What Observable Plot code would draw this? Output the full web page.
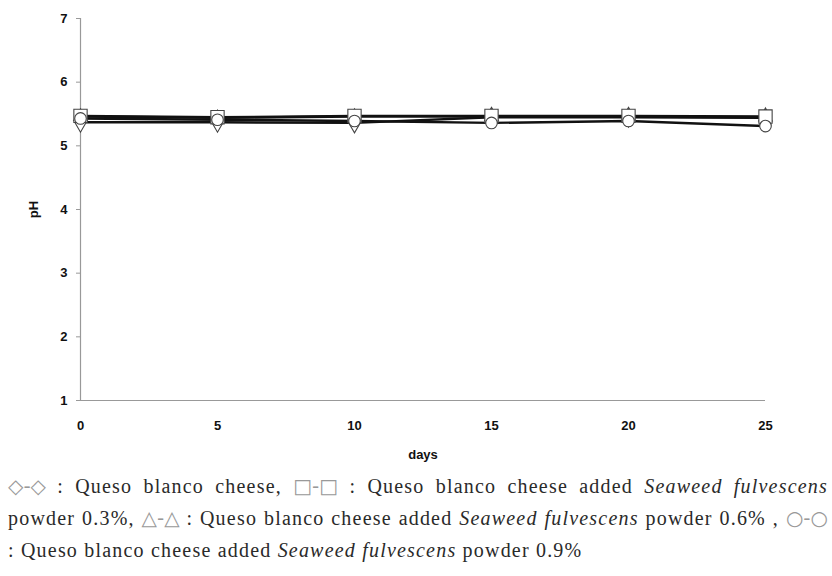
<!DOCTYPE html>
<html>
<head>
<meta charset="utf-8">
<script src="https://cdn.jsdelivr.net/npm/d3@7"></script>
<script src="https://cdn.jsdelivr.net/npm/@observablehq/plot@0.6"></script>
<style>
  html, body { margin: 0; padding: 0; background: #fff; }
  #chart { width: 832px; height: 470px; }
  .cap { font-family: "Liberation Serif", "DejaVu Serif", serif; font-size: 20px; letter-spacing: 1.2px; color: #2a2a2a; padding: 0 4px 0 8px; width: 820px; }
  .cap .ln { height: 32px; line-height: 32px; white-space: nowrap; }
  .cap .just { text-align: justify; text-align-last: justify; white-space: normal; }
  .cap .sym { color: #999; display: inline-block; letter-spacing: 0; font-family: "DejaVu Sans", sans-serif; font-size: 20px; }
  .cap i { font-style: italic; }
</style>
</head>
<body>
<div id="chart"></div>
<div class="cap" id="cap"></div>
<script>
const days = [0, 5, 10, 15, 20, 25];
const symbols = ["diamond", "triangle", "square", "circle"];
const phControl = [5.37, 5.37, 5.36, 5.45, 5.45, 5.44];
const ph03 = [5.47, 5.45, 5.47, 5.47, 5.47, 5.46];
const ph06 = [5.46, 5.44, 5.46, 5.46, 5.46, 5.45];
const ph09 = [5.43, 5.41, 5.39, 5.36, 5.39, 5.31];
const yTicks = [1, 2, 3, 4, 5, 6, 7];
const xTicks = [0, 5, 10, 15, 20, 25];
const legendSymbols = ["◇-◇", "□-□", "△-△", "○-○"];

const valuesBySymbol = {diamond: phControl, square: ph03, triangle: ph06, circle: ph09};
const sizeBySymbol = {diamond: 6, square: 7.5, triangle: 5, circle: 5.8};
const data = [];
symbols.forEach(sym => {
  days.forEach((d, j) => data.push({series: sym, symbol: sym, day: d, ph: valuesBySymbol[sym][j]}));
});

const chart = Plot.plot({
  width: 832,
  height: 470,
  marginLeft: 80,
  marginRight: 67,
  marginTop: 18,
  marginBottom: 70,
  style: {fontFamily: "Liberation Sans, Arial, sans-serif", fontSize: "13px", fontWeight: "bold", color: "#111"},
  x: {domain: [0, 25], ticks: xTicks, tickFormat: "d", tickSize: 0, tickPadding: 20, label: "days", labelAnchor: "center", labelOffset: 58, labelArrow: "none"},
  y: {domain: [1, 7], ticks: yTicks, tickFormat: "d", tickSize: 4, tickPadding: 9, label: "pH", labelAnchor: "center", labelOffset: 52, labelArrow: "none"},
  symbol: {domain: symbols, range: symbols},
  marks: [
    Plot.ruleY([1], {stroke: "#999", strokeWidth: 1.2}),
    Plot.ruleX([0], {stroke: "#999", strokeWidth: 1.2}),
    Plot.line(data, {x: "day", y: "ph", z: "series", stroke: "#111", strokeWidth: 2.4}),
    ...symbols.map(sym => Plot.dot(data.filter(d => d.symbol === sym), {x: "day", y: "ph", symbol: "symbol", r: sizeBySymbol[sym], fill: "white", stroke: "#444", strokeWidth: 1.1}))
  ]
});
document.getElementById("chart").appendChild(chart);
chart.querySelectorAll("g[aria-label='y-axis tick'] path").forEach(p => p.setAttribute("stroke", "#999"));

const cap = document.getElementById("cap");
cap.innerHTML =
  `<div class="ln just"><span class="sym">${legendSymbols[0]}</span> : Queso blanco cheese, <span class="sym">${legendSymbols[1]}</span> : Queso blanco cheese added <i>Seaweed fulvescens</i></div>` +
  `<div class="ln just">powder 0.3%, <span class="sym">${legendSymbols[2]}</span> : Queso blanco cheese added <i>Seaweed fulvescens</i> powder 0.6% , <span class="sym">${legendSymbols[3]}</span></div>` +
  `<div class="ln">: Queso blanco cheese added <i>Seaweed fulvescens</i> powder 0.9%</div>`;
</script>
</body>
</html>
